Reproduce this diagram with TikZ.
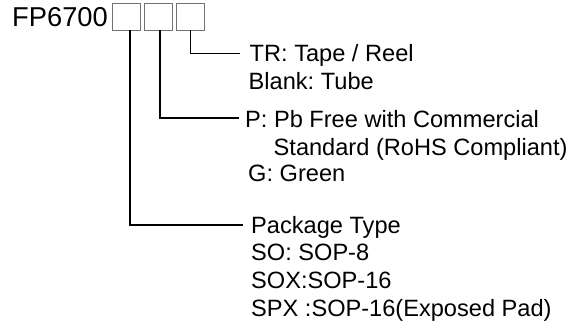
\documentclass[tikz,border=0pt]{standalone}
\usepackage{fontspec}
\setmainfont{Liberation Sans}
\frenchspacing
\begin{document}
\begin{tikzpicture}[x=1pt,y=-1pt,
  txt/.style={inner sep=0pt,anchor=base west,font=\fontsize{23.6}{27}\selectfont\frenchspacing},
  ttl/.style={inner sep=0pt,anchor=base west,font=\fontsize{27.3}{32}\selectfont},
  sel/.style={draw=black!55,line width=0.8pt,minimum width=28pt,minimum height=26.7pt,inner sep=0pt},
  conn/.style={draw=black,line width=1.4pt}]
\useasboundingbox (0,0) rectangle (582,326);
\node[ttl] (title) at (12,26.7) {FP6700};
\node[sel] (b1) at (126.7,16.7) {};
\node[sel] (b2) at (158.5,16.7) {};
\node[sel] (b3) at (190.2,16.7) {};
% texts
\node[txt] (tr) at (249.5,61.7) {TR: Tape / Reel};
\node[txt] (blank) at (248.5,89.3) {Blank: Tube};
\node[txt] (pb) at (245,127.7) {P: Pb Free with Commercial};
\node[txt] (std) at (273.5,155.5) {Standard (RoHS Compliant)};
\node[txt] (green) at (248,182) {G: Green};
\node[txt] (pkg) at (251,233.3) {Package Type};
\node[txt] (so) at (251,261) {SO: SOP-8};
\node[txt] (sox) at (251,288.7) {SOX:SOP-16};
\node[txt] (spx) at (251,316.3) {SPX :SOP-16(Exposed Pad)};
% connector ends
\coordinate (e3) at (240,53.5);
\coordinate (e2) at (239,118);
\coordinate (e1) at (243,225);
\draw[conn] ([xshift=0.5pt]b3.south) |- (e3);
\draw[conn] ([xshift=1.5pt]b2.south) |- (e2);
\draw[conn] ([xshift=3.3pt]b1.south) |- (e1);
\end{tikzpicture}
\end{document}
